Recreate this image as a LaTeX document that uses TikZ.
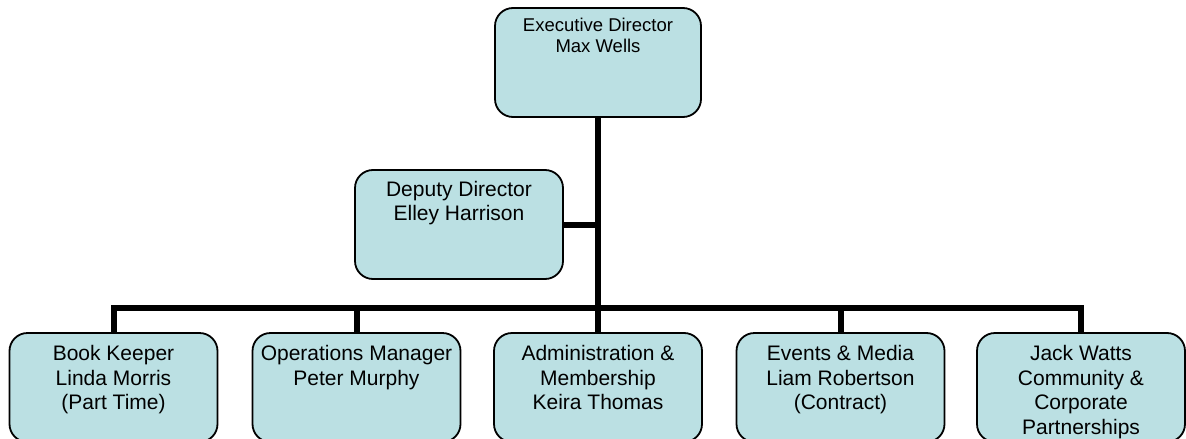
\documentclass[tikz,border=0pt]{standalone}
\usepackage{fontspec}
\setmainfont{Liberation Sans}
\usetikzlibrary{backgrounds}
\definecolor{boxfill}{RGB}{187,224,227}
\tikzset{
  orgbox/.style={draw=black, line width=1.8pt, fill=boxfill, rounded corners=18pt,
    minimum width=208pt, minimum height=109pt, inner sep=0pt},
  bigtxt/.style={anchor=north, align=center, inner sep=0pt, font=\fontsize{21}{24.5}\selectfont},
  toptxt/.style={anchor=north, align=center, inner sep=0pt, font=\fontsize{18.5}{21.3}\selectfont},
  conn/.style={draw=black, line width=6pt, line join=miter}
}
\begin{document}
\begin{tikzpicture}[x=1pt,y=-1pt]
\useasboundingbox (0,0) rectangle (1186,439);
\clip (0,0) rectangle (1186,439);
\coordinate (bus) at (598,308);
\node[orgbox, minimum width=206pt] (ed) at (598,62.5) {};
\node[orgbox] (dd) at (459,224.5) {};
\node[orgbox] (bk) at (113.5,387.5) {};
\node[orgbox] (om) at (356.5,387.5) {};
\node[orgbox] (am) at (598,387.5) {};
\node[orgbox] (em) at (840.5,387.5) {};
\node[orgbox] (jw) at (1081,387.5) {};
\begin{scope}[on background layer]
\fill[white] (0,0) rectangle (1186,439);
\draw[conn] (ed.south) -- (bus);
\draw[conn] (dd.east) -- (dd.east -| ed.south);
\draw[conn] (bk.north) -- (bk.north |- bus) -- (jw.north |- bus) -- (jw.north);
\draw[conn] (om.north) -- (om.north |- bus);
\draw[conn] (am.north) -- (bus);
\draw[conn] (em.north) -- (em.north |- bus);
\end{scope}
\node[toptxt] (edt) at ([yshift=-10.5pt]ed.north) {Executive Director\\Max Wells};
\node[bigtxt] (ddt) at ([yshift=-11.7pt]dd.north) {Deputy Director\\Elley Harrison};
\node[bigtxt] (bkt) at ([yshift=-13pt]bk.north) {Book Keeper\\Linda Morris\\(Part Time)};
\node[bigtxt] (omt) at ([yshift=-13pt]om.north) {Operations Manager\\Peter Murphy};
\node[bigtxt] (amt) at ([yshift=-13pt]am.north) {Administration \&\\Membership\\Keira Thomas};
\node[bigtxt] (emt) at ([yshift=-13pt]em.north) {Events \& Media\\Liam Robertson\\(Contract)};
\node[bigtxt] (jwt) at ([yshift=-13pt]jw.north) {Jack Watts\\Community \&\\Corporate\\Partnerships};
\end{tikzpicture}
\end{document}
